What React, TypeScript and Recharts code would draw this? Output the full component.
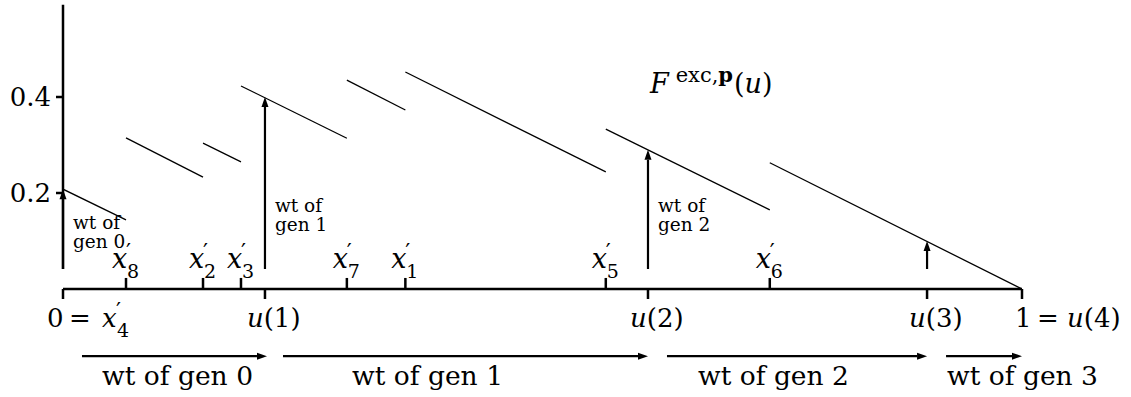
import { LineChart, Line, XAxis, YAxis, ReferenceLine, ReferenceDot } from 'recharts'

// piecewise-linear F^{exc,p}(u): piece k runs from segStart[k] to segEnd[k]
const segStart = [0, 0.0657, 0.146, 0.1856, 0.296, 0.357, 0.566, 0.737]
const segEnd = [0.0657, 0.146, 0.1856, 0.296, 0.357, 0.566, 0.737, 1]
const fAtStart = [0.208, 0.315, 0.304, 0.423, 0.435, 0.452, 0.333, 0.263]
const fAtEnd = [0.144, 0.233, 0.265, 0.314, 0.373, 0.244, 0.165, 0]

// x'_i at the inner breakpoints (x'_4 sits at 0)
const primeTicks = [0.0657, 0.146, 0.1856, 0.296, 0.357, 0.566, 0.737]
const primeNames = ['8', '2', '3', '7', '1', '5', '6']

const uTicks = [0, 0.2106, 0.61, 0.901, 1]
const genWeight = [0.208, 0.4, 0.29, 0.1] // F at u(0..3), drawn as up arrows
const yTicks = [0.2, 0.4]

const genArrowStart = [0.0198, 0.2294, 0.6298, 0.9208]
const genArrowEnd = [0.2127, 0.61, 0.901, 1]
const genLabelX = [0.0407, 0.3014, 0.6621, 0.9218]
const genNames = ['0', '1', '2', '3']

const FONT = 'DejaVu Serif'
const ARROW_BASE = 0.0417
const AXIS_TOP = 0.592
const ROW_ARROWS = -0.14
const ROW_LABELS = -0.2

const segments = segStart.map((s, i) => [
  { x: s, y: fAtStart[i] },
  { x: segEnd[i], y: fAtEnd[i] },
])

const arrowShape = (p: any) => {
  const { x1, y1, x2, y2 } = p
  const dx = x2 - x1
  const dy = y2 - y1
  const len = Math.hypot(dx, dy) || 1
  const ux = dx / len
  const uy = dy / len
  const L = 10
  const hw = 3.5
  const bx = x2 - ux * L
  const by = y2 - uy * L
  const pts = `${x2},${y2} ${bx - uy * hw},${by + ux * hw} ${bx + uy * hw},${by - ux * hw}`
  return (
    <g>
      <line x1={x1} y1={y1} x2={bx} y2={by} stroke="#000" strokeWidth={2.2} />
      <polygon points={pts} fill="#000" />
    </g>
  )
}

const txt = { fontFamily: FONT, fill: '#000' }

// x'_sub: italic x, raised prime, subscript tucked under the prime (absolute x per piece)
const primeSpans = (x: number, sub: string) => [
  <tspan key="x" x={x} fontStyle="italic">x</tspan>,
  <tspan key="p" x={x + 14} fontSize={22} dy={-9}>′</tspan>,
  <tspan key="s" x={x + 15} fontSize={19} dy={19}>{sub}</tspan>,
]

const PrimeLabel = ({ x, y, sub }: { x: number; y: number; sub: string }) => (
  <text x={x} y={y} fontSize={27} style={txt}>
    {primeSpans(x, sub)}
  </text>
)

const ULabel = ({ x, y, k }: { x: number; y: number; k: number }) => (
  <text x={x} y={y} fontSize={26} style={txt}>
    <tspan fontStyle="italic">u</tspan>
    <tspan>({k})</tspan>
  </text>
)

const UTick = (props: any) => {
  const { x, y, payload } = props
  const i = uTicks.indexOf(payload.value)
  const base = y + 28
  if (i === 0) {
    return (
      <text x={x - 16} y={base} fontSize={26} style={txt}>
        <tspan x={x - 16}>0</tspan>
        <tspan x={x + 6}>=</tspan>
        {primeSpans(x + 39, '4')}
      </text>
    )
  }
  if (i === uTicks.length - 1) {
    return (
      <text x={x - 7} y={base} fontSize={26} style={txt}>
        <tspan x={x - 7}>1</tspan>
        <tspan x={x + 15}>=</tspan>
        <tspan x={x + 45} fontStyle="italic">u</tspan>
        <tspan>({i})</tspan>
      </text>
    )
  }
  return <ULabel x={x - 18} y={base} k={i} />
}

const App = () => {
  return (
    <div style={{ position: 'absolute', left: 0, top: 0, background: '#fff' }}>
      <LineChart
        width={1131}
        height={397}
        margin={{ top: 1, right: 109, bottom: 8, left: 0 }}
      >
        <XAxis
          type="number"
          dataKey="x"
          domain={[0, 1]}
          allowDataOverflow
          ticks={uTicks}
          interval={0}
          height={100}
          axisLine={{ stroke: '#000', strokeWidth: 2.5 }}
          tickLine={{ stroke: '#000', strokeWidth: 2.5 }}
          tickSize={10}
          tickMargin={0}
          tick={UTick}
        />
        <YAxis
          type="number"
          domain={[0, 0.6]}
          allowDataOverflow
          ticks={yTicks}
          interval={0}
          width={63}
          axisLine={false}
          tickLine={{ stroke: '#000', strokeWidth: 2.5 }}
          tickSize={7}
          tickMargin={5}
          tickFormatter={(v: number) => v.toFixed(1)}
          tick={{ fill: '#000', fontSize: 26, style: { fontFamily: FONT } }}
        />

        <ReferenceLine
          segment={[{ x: 0, y: ARROW_BASE }, { x: 0, y: AXIS_TOP }]}
          stroke="#000"
          strokeWidth={2.5}
          ifOverflow="visible"
        />

        {segments.map((d, i) => (
          <Line
            key={i}
            data={d}
            dataKey="y"
            type="linear"
            stroke="#000"
            strokeWidth={1.3}
            dot={false}
            activeDot={false}
            isAnimationActive={false}
          />
        ))}

        {primeTicks.map((t, i) => (
          <ReferenceLine
            key={`pt${i}`}
            segment={[{ x: t, y: 0 }, { x: t, y: 0.023 }]}
            stroke="#000"
            strokeWidth={2.5}
            ifOverflow="visible"
          />
        ))}
        {primeTicks.map((t, i) => (
          <ReferenceDot
            key={`pl${i}`}
            x={t}
            y={0}
            r={0}
            ifOverflow="visible"
            shape={(p: any) => <PrimeLabel x={p.cx - 14} y={p.cy - 21} sub={primeNames[i]} />}
          />
        ))}

        {genWeight.map((w, i) => (
          <ReferenceLine
            key={`wa${i}`}
            segment={[{ x: uTicks[i], y: ARROW_BASE }, { x: uTicks[i], y: w }]}
            ifOverflow="visible"
            shape={arrowShape}
          />
        ))}
        {[0, 1, 2].map((i) => (
          <ReferenceDot
            key={`wl${i}`}
            x={uTicks[i]}
            y={i === 0 ? 0.125 : 0.16}
            r={0}
            ifOverflow="visible"
            shape={(p: any) => (
              <text x={p.cx + 10} y={p.cy} fontSize={18.5} style={txt}>
                <tspan x={p.cx + 10}>wt of</tspan>
                <tspan x={p.cx + 10} dy={19}>gen {genNames[i]}</tspan>
              </text>
            )}
          />
        ))}

        {genArrowStart.map((s, i) => (
          <ReferenceLine
            key={`ga${i}`}
            segment={[{ x: s, y: ROW_ARROWS }, { x: genArrowEnd[i], y: ROW_ARROWS }]}
            ifOverflow="visible"
            shape={arrowShape}
          />
        ))}
        {genLabelX.map((lx, i) => (
          <ReferenceDot
            key={`gl${i}`}
            x={lx}
            y={ROW_LABELS}
            r={0}
            ifOverflow="visible"
            shape={(p: any) => (
              <text x={p.cx} y={p.cy} fontSize={26.5} style={txt}>
                wt of gen {genNames[i]}
              </text>
            )}
          />
        ))}

        <ReferenceDot
          x={0.612}
          y={0.408}
          r={0}
          ifOverflow="visible"
          shape={(p: any) => (
            <text x={p.cx} y={p.cy} fontSize={27} style={txt}>
              <tspan fontStyle="italic">F</tspan>
              <tspan fontSize={21} dx={7} dy={-11}>exc,</tspan>
              <tspan fontSize={21} fontWeight="bold">p</tspan>
              <tspan dx={1} dy={11}>(</tspan>
              <tspan fontStyle="italic">u</tspan>
              <tspan>)</tspan>
            </text>
          )}
        />
      </LineChart>
    </div>
  )
}

export default App
